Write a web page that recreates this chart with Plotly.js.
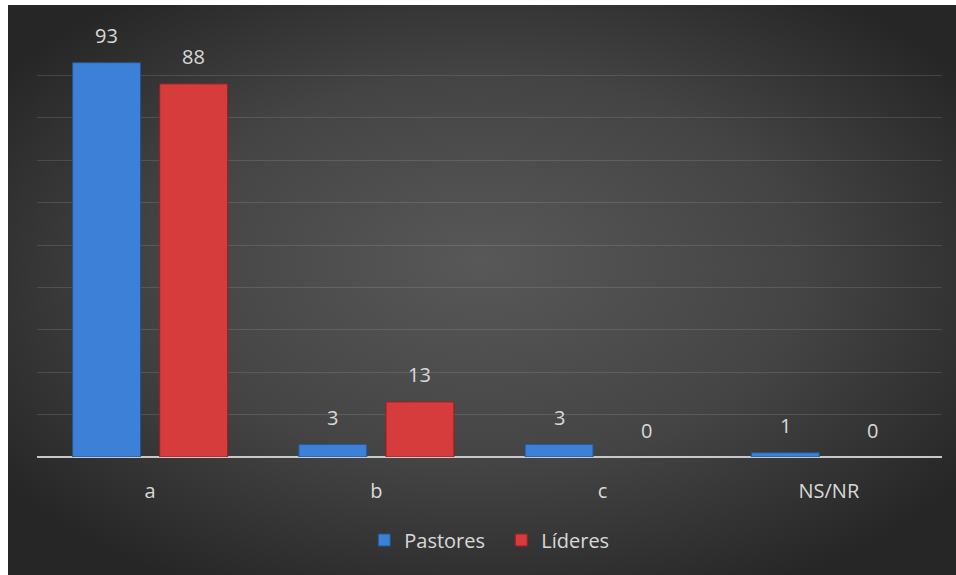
<!DOCTYPE html>
<html>
<head>
<meta charset="utf-8">
<script src="https://cdn.plot.ly/plotly-3.0.1.min.js"></script>
<style>html,body{margin:0;padding:0;background:#fff;}#chart{width:956px;height:575px;}</style>
</head>
<body>
<div id="chart"></div>
<script>
const categories = ['a', 'b', 'c', 'NS/NR'];
const pastores = [93, 3, 3, 1];
const lideres = [88, 13, 0, 0];
const seriesNames = ['Pastores', 'Líderes'];

const W = 956, H = 575;
const M = {l: 37, r: 14, t: 33, b: 118};
const plotW = W - M.l - M.r, plotH = H - M.t - M.b;

const svg = '<svg xmlns="http://www.w3.org/2000/svg" width="948" height="570" viewBox="0 0 948 570">' +
  '<defs><radialGradient id="g" cx="50%" cy="48%" r="62%" fx="50%" fy="45%">' +
  '<stop offset="0" stop-color="#585858"/><stop offset="0.55" stop-color="#444444"/><stop offset="1" stop-color="#262626"/>' +
  '</radialGradient></defs><rect width="948" height="570" fill="url(#g)"/></svg>';
const bgSrc = 'data:image/svg+xml;charset=utf-8,' + encodeURIComponent(svg);

const fontFam = '"Open Sans", "DejaVu Sans", sans-serif';
const txtColor = '#d9d9d9';

const traces = [
  {type: 'bar', name: seriesNames[0], x: categories, y: pastores,
   marker: {color: '#3d80d8', line: {color: '#24548f', width: pastores.map(v => v > 0 ? 1 : 0)}}},
  {type: 'bar', name: seriesNames[1], x: categories, y: lideres,
   marker: {color: '#d63c3c', line: {color: '#962020', width: lideres.map(v => v > 0 ? 1 : 0)}}}
];

const annotations = [];
[pastores, lideres].forEach((vals, si) => {
  vals.forEach((v, i) => {
    annotations.push({x: categories[i], y: v, xref: 'x', yref: 'y', text: String(v),
      showarrow: false, xshift: si === 0 ? -43.5 : 43.5, yshift: 27, yanchor: 'middle',
      font: {family: fontFam, size: 20, color: txtColor}});
  });
});

const layout = {
  width: W, height: H,
  margin: M,
  paper_bgcolor: '#ffffff',
  plot_bgcolor: 'rgba(0,0,0,0)',
  barmode: 'group',
  bargap: 0.23,
  bargroupgap: 0.22,
  showlegend: true,
  legend: {orientation: 'h', x: 0.513, xanchor: 'center', y: (M.t + plotH - 540) / plotH, yanchor: 'middle',
    font: {family: fontFam, size: 20, color: txtColor}, bgcolor: 'rgba(0,0,0,0)', itemwidth: 30,
    entrywidth: 92, traceorder: 'normal'},
  xaxis: {type: 'category', showgrid: false, zeroline: false, showline: false, ticks: '',
    ticklabelstandoff: 20,
    tickfont: {family: fontFam, size: 20, color: txtColor}},
  yaxis: {range: [0, 100], dtick: 10, showticklabels: false, showgrid: true,
    gridcolor: 'rgba(255,255,255,0.12)', gridwidth: 1,
    zeroline: true, zerolinecolor: '#c8c8c8', zerolinewidth: 2, fixedrange: true},
  annotations: annotations,
  images: [{source: bgSrc, xref: 'paper', yref: 'paper',
    x: (8 - M.l) / plotW, y: (M.t + plotH - 5) / plotH,
    sizex: (W - 8) / plotW, sizey: (H - 5) / plotH,
    xanchor: 'left', yanchor: 'top', sizing: 'stretch', layer: 'below'}]
};

Plotly.newPlot('chart', traces, layout, {displayModeBar: false, staticPlot: true});
</script>
</body>
</html>
